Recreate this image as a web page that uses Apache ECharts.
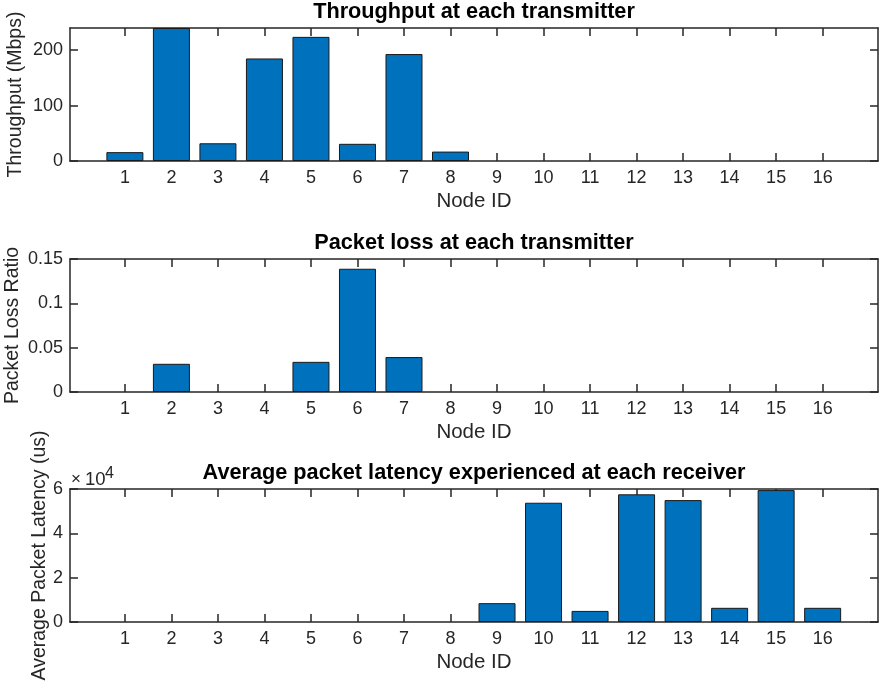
<!DOCTYPE html>
<html>
<head>
<meta charset="utf-8">
<script src="https://cdn.jsdelivr.net/npm/echarts@6/dist/echarts.min.js"></script>
<style>
  html, body { margin: 0; padding: 0; background: #fff; }
  #chart { width: 879px; height: 691px; }
</style>
</head>
<body>
<div id="chart"></div>
<script>
// node ids 1..16
const nodeIds = [1, 2, 3, 4, 5, 6, 7, 8, 9, 10, 11, 12, 13, 14, 15, 16];

// values
const throughput = [16, 240, 32, 185, 224, 31, 193, 17, 0, 0, 0, 0, 0, 0, 0, 0];
const packetLoss = [0, 0.0318, 0, 0, 0.034, 0.139, 0.0394, 0, 0, 0, 0, 0, 0, 0, 0, 0];
const latency = [0, 0, 0, 0, 0, 0, 0, 0, 8500, 53800, 5000, 57600, 55000, 6400, 59500, 6400];

const throughputTicks = [0, 100, 200];
const lossTicks = [0, 0.05, 0.1, 0.15];
const latencyTicks = [0, 20000, 40000, 60000];

const titles = [
  'Throughput at each transmitter',
  'Packet loss at each transmitter',
  'Average packet latency experienced at each receiver'
];
const yNames = ['Throughput (Mbps)', 'Packet Loss Ratio', 'Average Packet Latency (us)'];

const X_MIN = -0.18, X_MAX = 17.19;
const txt = '#262626';
const lineStyle = { color: '#262626', width: 1.5 };

const panels = [
  { top: 28, data: throughput, max: 240, ticks: throughputTicks, nameGap: 44 },
  { top: 259, data: packetLoss, max: 0.15, ticks: lossTicks, nameGap: 47 },
  { top: 489, data: latency, max: 60000, ticks: latencyTicks, nameGap: 20, fmt: v => v / 10000 }
];

const grid = [], xAxis = [], yAxis = [], series = [];
panels.forEach((p, i) => {
  grid.push({ left: 70, right: 1, top: p.top, height: 133, outerBoundsMode: 'none', containLabel: false });
  xAxis.push({
    gridIndex: i, type: 'value', min: X_MIN, max: X_MAX, position: 'bottom',
    axisLine: { show: true, onZero: false, lineStyle },
    axisTick: { show: true, inside: true, length: 8, customValues: nodeIds, lineStyle },
    axisLabel: { customValues: nodeIds, fontSize: 18, margin: 8, color: txt },
    splitLine: { show: false },
    name: 'Node ID', nameLocation: 'middle', nameGap: 30, nameMoveOverlap: false,
    nameTextStyle: { fontSize: 20.5, color: txt }
  });
  xAxis.push({
    gridIndex: i, type: 'value', min: X_MIN, max: X_MAX, position: 'top',
    axisLine: { show: true, onZero: false, lineStyle },
    axisTick: { show: true, inside: true, length: 8, customValues: nodeIds, lineStyle },
    axisLabel: { show: false, customValues: nodeIds },
    splitLine: { show: false },
    name: titles[i], nameLocation: 'middle', nameGap: 5, nameMoveOverlap: false,
    nameTextStyle: { fontSize: 21.7, fontWeight: 'bold', color: '#000' }
  });
  yAxis.push({
    gridIndex: i, type: 'value', min: 0, max: p.max, position: 'left',
    axisLine: { show: true, onZero: false, lineStyle },
    axisTick: { show: true, inside: true, length: 8, customValues: p.ticks, lineStyle },
    axisLabel: { customValues: p.ticks, fontSize: 18, margin: 7, color: txt, formatter: p.fmt },
    splitLine: { show: false },
    name: yNames[i], nameLocation: 'middle', nameGap: p.nameGap, nameMoveOverlap: false,
    nameTextStyle: { fontSize: 19.5, color: txt }
  });
  yAxis.push({
    gridIndex: i, type: 'value', min: 0, max: p.max, position: 'right',
    axisLine: { show: true, onZero: false, lineStyle },
    axisTick: { show: true, inside: true, length: 8, customValues: p.ticks, lineStyle },
    axisLabel: { show: false, customValues: p.ticks },
    splitLine: { show: false }
  });
  series.push({
    type: 'bar', xAxisIndex: i * 2, yAxisIndex: i * 2,
    // zero-height bars are left out so their edges do not speckle the baseline
    data: nodeIds.map((id, k) => [id, p.data[k] === 0 ? '-' : p.data[k]]),
    barWidth: 37,
    itemStyle: { color: '#0072BD', borderColor: '#1a1a1a', borderWidth: 1 }
  });
});

const expStyle = size => ({ fontSize: size, fontWeight: 'normal', color: txt, fontFamily: 'Liberation Sans' });

const chart = echarts.init(document.getElementById('chart'));
chart.setOption({
  animation: false,
  backgroundColor: '#fff',
  textStyle: { fontFamily: 'Liberation Sans' },
  // exponent note of the latency axis
  title: [
    { text: '×', left: 71, top: 471, padding: 0, textStyle: expStyle(17) },
    { text: '10', left: 85, top: 470, padding: 0, textStyle: expStyle(18.5) },
    { text: '4', left: 105, top: 466, padding: 0, textStyle: expStyle(16) }
  ],
  grid, xAxis, yAxis, series
});
</script>
</body>
</html>
